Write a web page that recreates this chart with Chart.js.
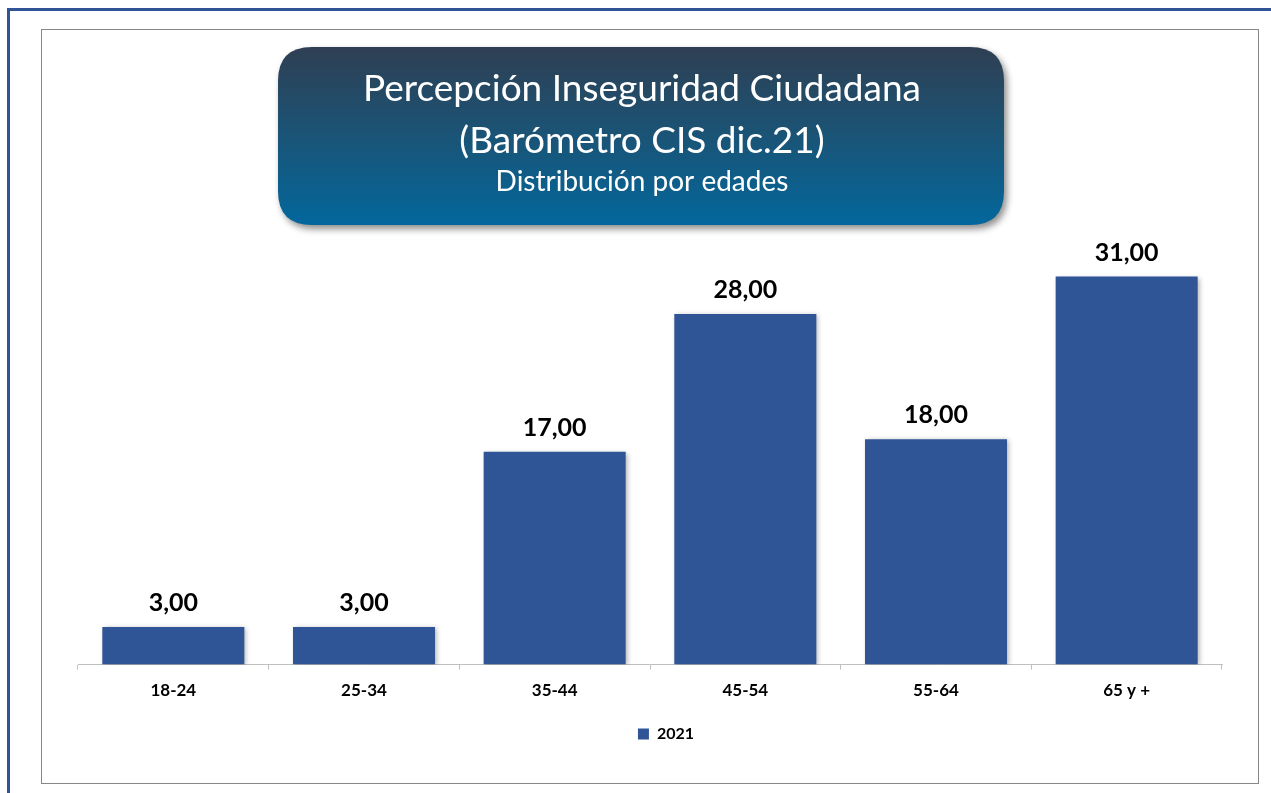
<!DOCTYPE html>
<html>
<head>
<meta charset="utf-8">
<script src="https://cdn.jsdelivr.net/npm/chart.js@4/dist/chart.umd.min.js"></script>
<style>
  html, body { margin: 0; padding: 0; background: #fff; }
  #wrap { position: relative; width: 1271px; height: 793px; }
</style>
</head>
<body>
<div id="wrap"><canvas id="barChart" width="1271" height="793"></canvas></div>
<script>
// data
const categories = ['18-24', '25-34', '35-44', '45-54', '55-64', '65 y +'];
const values2021 = [3, 3, 17, 28, 18, 31];
const seriesName = '2021';
const titleLines = ['Percepción Inseguridad Ciudadana', '(Barómetro CIS dic.21)', 'Distribución por edades'];

const FONT = 'Lato, "Liberation Sans", sans-serif';
const barColor = '#2F5597';

function roundRect(ctx, x, y, w, h, r) {
    ctx.beginPath();
    ctx.moveTo(x + r, y);
    ctx.lineTo(x + w - r, y);
    ctx.quadraticCurveTo(x + w, y, x + w, y + r);
    ctx.lineTo(x + w, y + h - r);
    ctx.quadraticCurveTo(x + w, y + h, x + w - r, y + h);
    ctx.lineTo(x + r, y + h);
    ctx.quadraticCurveTo(x, y + h, x, y + h - r);
    ctx.lineTo(x, y + r);
    ctx.quadraticCurveTo(x, y, x + r, y);
    ctx.closePath();
}

// frames + title box
const framePlugin = {
    id: 'frame',
    afterLayout(chart) {
        // legend sits a bit right of the plot centre in the original
        chart.legend.left += 16;
        chart.legend.right += 16;
    },
    beforeDraw(chart) {
        const ctx = chart.ctx;
        ctx.save();
        // outer blue frame (top + left)
        ctx.strokeStyle = barColor;
        ctx.lineWidth = 3;
        ctx.beginPath();
        ctx.moveTo(8.5, 800);
        ctx.lineTo(8.5, 9.5);
        ctx.lineTo(1280, 9.5);
        ctx.stroke();
        // inner gray frame
        ctx.strokeStyle = '#878787';
        ctx.lineWidth = 1;
        ctx.strokeRect(41.5, 29.5, 1217, 754);

        // title box
        const bx = 278, by = 47, bw = 726, bh = 178;
        ctx.shadowColor = 'rgba(0,0,0,0.45)';
        ctx.shadowBlur = 7;
        ctx.shadowOffsetX = 3;
        ctx.shadowOffsetY = 4;
        const g = ctx.createLinearGradient(0, by, 0, by + bh);
        g.addColorStop(0, '#2f3f53');
        g.addColorStop(0.5, '#1a5476');
        g.addColorStop(1, '#03679c');
        ctx.fillStyle = g;
        roundRect(ctx, bx, by, bw, bh, 34);
        ctx.fill();
        ctx.shadowColor = 'transparent';

        ctx.fillStyle = '#ffffff';
        ctx.textAlign = 'center';
        ctx.textBaseline = 'alphabetic';
        const cx = bx + bw / 2 + 1;
        ctx.font = '37px ' + FONT;
        ctx.fillText(titleLines[0], cx, 101, 570);
        ctx.fillText(titleLines[1], cx, 153, 372);
        ctx.font = '28px ' + FONT;
        ctx.fillText(titleLines[2], cx, 191, 312);
        ctx.restore();
    }
};

// soft shadow under the bars
const barShadow = {
    id: 'barShadow',
    beforeDatasetsDraw(chart) {
        const ctx = chart.ctx;
        ctx.save();
        ctx.shadowColor = 'rgba(0,0,0,0.3)';
        ctx.shadowBlur = 5;
        ctx.shadowOffsetX = 2;
        ctx.shadowOffsetY = 1;
    },
    afterDatasetsDraw(chart) {
        chart.ctx.restore();
    }
};

// value labels above bars
const valueLabels = {
    id: 'valueLabels',
    afterDatasetsDraw(chart) {
        const ctx = chart.ctx;
        ctx.save();
        ctx.font = 'bold 25px ' + FONT;
        ctx.fillStyle = '#000';
        ctx.textAlign = 'center';
        ctx.textBaseline = 'alphabetic';
        chart.getDatasetMeta(0).data.forEach((bar, i) => {
            const txt = values2021[i].toFixed(2).replace('.', ',');
            ctx.fillText(txt, bar.x, bar.y - 16);
        });
        ctx.restore();
    }
};

new Chart(document.getElementById('barChart'), {
    type: 'bar',
    data: {
        labels: categories,
        datasets: [{
            label: seriesName,
            data: values2021,
            backgroundColor: barColor,
            borderWidth: 0,
            categoryPercentage: 1,
            barPercentage: 0.745
        }]
    },
    options: {
        responsive: false,
        animation: false,
        layout: {
            padding: { left: 78, right: 49, top: 239, bottom: 41 }
        },
        scales: {
            x: {
                grid: {
                    display: true,
                    drawOnChartArea: false,
                    drawTicks: true,
                    tickLength: 5,
                    color: '#bfbfbf',
                    offset: true
                },
                border: { color: '#bfbfbf', width: 1 },
                ticks: {
                    color: '#000',
                    padding: 11,
                    font: { family: FONT, size: 17, weight: 'bold' }
                }
            },
            y: {
                display: false,
                min: 0,
                max: 34
            }
        },
        plugins: {
            legend: {
                display: true,
                position: 'bottom',
                labels: {
                    color: '#000',
                    boxWidth: 11,
                    boxHeight: 11,
                    padding: 14,
                    font: { family: FONT, size: 16, weight: 'bold' }
                }
            },
            tooltip: { enabled: false }
        }
    },
    plugins: [framePlugin, barShadow, valueLabels]
});
</script>
</body>
</html>
